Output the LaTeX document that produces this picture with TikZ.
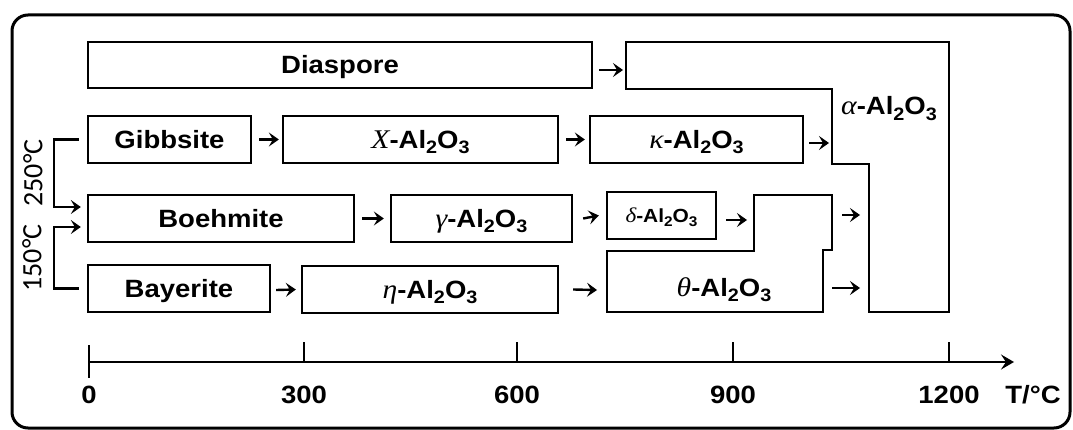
\documentclass[tikz,border=0pt]{standalone}
\usepackage{fontspec}
\setmainfont{Liberation Sans}[FakeStretch=1.1]
\newfontfamily\gkfont{Liberation Serif}[FakeStretch=1.1]
\newfontfamily\calfont{Carlito}
\usetikzlibrary{arrows.meta}
\newcommand\lowd[1]{\raisebox{-0.4ex}{\fontsize{18}{18}\selectfont #1}}
\newcommand\gr[1]{{\gkfont\itshape\mdseries\fontsize{27}{27}\selectfont #1}}
\newcommand\alo{-Al\lowd{2}O\lowd{3}}
\begin{document}
\begin{tikzpicture}[x=1pt,y=-1pt,
  lbl/.style={inner sep=0pt,text height=18pt,text depth=0pt,font=\fontsize{25}{25}\selectfont\bfseries},
  box/.style={draw,line width=2.3pt,inner sep=0pt,minimum height=47pt,text height=18pt,text depth=0pt,font=\fontsize{25}{25}\selectfont\bfseries},
  shp/.style={draw,line width=2.3pt},
  arr/.style={line width=2.4pt,-{Stealth[length=10pt,width=14pt,inset=4pt]}},
  axarr/.style={line width=2.2pt,-{Stealth[length=13pt,width=15pt,inset=5pt]}},
  tick/.style={line width=2.2pt},
  side/.style={inner sep=0pt,rotate=90,font=\fontsize{28}{28}\selectfont\calfont}]
\useasboundingbox (0,0) rectangle (1073,430);
\draw[line width=3pt,rounded corners=16pt] (12,15) rectangle (1070,428);
% boxes
\node[box,minimum width=504pt,minimum height=46pt] (dia) at (340,65) {Diaspore};
\node[box,minimum width=163pt] (gib) at (169.5,139.5) {Gibbsite};
\node[box,minimum width=275pt] (chi) at (420.5,139.5) {\gr{X}\alo};
\node[box,minimum width=213pt] (kap) at (696.5,139.5) {\gr{κ}\alo};
\node[box,minimum width=266pt] (boe) at (221,218.5) {Boehmite};
\node[box,minimum width=181pt] (gam) at (481.5,218.5) {\gr{γ}\alo};
\node[box,minimum width=109pt,text height=14pt,font=\fontsize{19}{19}\selectfont\bfseries] (del) at (661.5,215.5) {{\gkfont\itshape\mdseries\fontsize{21}{21}\selectfont δ}-Al\raisebox{-0.4ex}{\fontsize{14}{14}\selectfont 2}O\raisebox{-0.4ex}{\fontsize{14}{14}\selectfont 3}};
\node[box,minimum width=182pt] (bay) at (179,288.5) {Bayerite};
\node[box,minimum width=256pt] (eta) at (430,289.5) {\gr{η}\alo};
% alpha region
\draw[shp] (626,42) -- (949,42) -- (949,312) -- (869,312) -- (869,164) -- (832,164) -- (832,89) -- (626,89) -- cycle;
\node[lbl] (alab) at (889,106) {\gr{α}\alo};
% theta region
\draw[shp] (607,251) -- (754,251) -- (754,195) -- (832,195) -- (832,250) -- (823,250) -- (823,312) -- (607,312) -- cycle;
\node[lbl] (tlab) at (724,287) {\gr{θ}\alo};
% anchor coordinates on the two regions
\coordinate (aW0) at (626,70);
\coordinate (aW1) at (832,143);
\coordinate (aW2) at (869,215);
\coordinate (aW3) at (869,288);
\coordinate (tE1) at (832,215);
\coordinate (tE2) at (823,288);
\coordinate (tW1) at (754,220);
\coordinate (tW2) at (607,290);
% arrows
\draw[arr] ([xshift=6pt,yshift=-5pt]dia.east) -- ([xshift=-3pt]aW0);
\draw[arr] ([xshift=7pt]gib.east) -- ([xshift=-3pt]chi.west);
\draw[arr] ([xshift=7pt]chi.east) -- ([xshift=-4pt]kap.west);
\draw[arr] ([xshift=5pt,yshift=-3.5pt]kap.east) -- ([xshift=-3pt]aW1);
\draw[arr] ([xshift=7pt]boe.east) -- ([xshift=-6pt]gam.west);
\draw[arr] ([xshift=10pt]gam.east) -- ([xshift=-7pt]del.west);
\draw[arr] ([xshift=9pt,yshift=-4.5pt]del.east) -- ([xshift=-7pt]tW1);
\draw[arr] ([xshift=10pt]tE1) -- ([xshift=-9pt]aW2);
\draw[arr] ([xshift=9pt]tE2) -- ([xshift=-9pt]aW3);
\draw[arr] ([xshift=5pt,yshift=-1.5pt]bay.east) -- ([xshift=-5pt]eta.west);
\draw[arr] ([xshift=14pt]eta.east) -- ([xshift=-10pt]tW2);
% brackets
\draw[arr] ([xshift=-8pt]gib.west) -- ++(-25,0) |- ([xshift=-6pt,yshift=11.5pt]boe.west);
\draw[arr] ([xshift=-8pt]bay.west) -- ++(-25,0) |- ([xshift=-6pt,yshift=-8.5pt]boe.west);
\node[side] (t250) at (33,173) {250°C};
\node[side] (t150) at (32,258) {150°C};
% axis
\coordinate (ax0) at (88,362);
\coordinate (ax1) at (1014,362);
\draw[axarr] (ax0) -- (ax1);
\draw[tick] (89,345) -- (89,378);
\foreach \x in {304,517,733,949} \draw[tick] (\x,342) -- (\x,362);
\node[lbl] (n0) at (89,394) {0};
\node[lbl] (n300) at (304,394) {300};
\node[lbl] (n600) at (517,394) {600};
\node[lbl] (n900) at (733,394) {900};
\node[lbl] (n1200) at (949,394) {1200};
\node[lbl] (unit) at (1033,394) {T/°C};
\end{tikzpicture}
\end{document}
